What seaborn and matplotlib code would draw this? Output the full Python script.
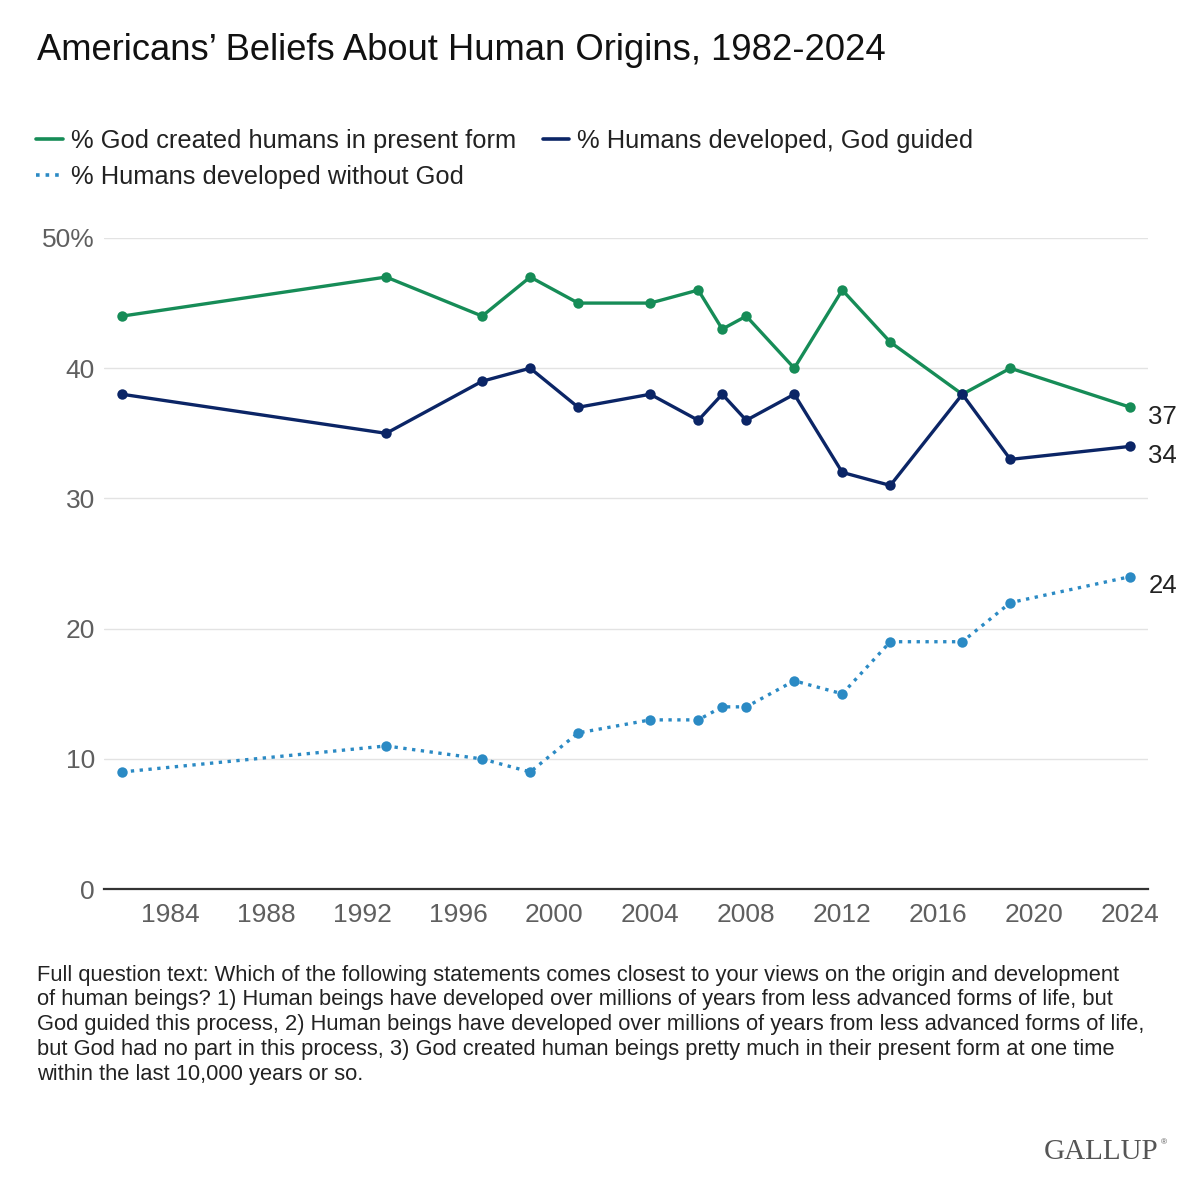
import numpy as np
import pandas as pd
import matplotlib
matplotlib.use("Agg")
import matplotlib.pyplot as plt
import seaborn as sns
from matplotlib.lines import Line2D

# --- data ---
years = [1982, 1993, 1997, 1999, 2001, 2004, 2006, 2007, 2008, 2010, 2012, 2014, 2017, 2019, 2024]
god_created = [44, 47, 44, 47, 45, 45, 46, 43, 44, 40, 46, 42, 38, 40, 37]
god_guided = [38, 35, 39, 40, 37, 38, 36, 38, 36, 38, 32, 31, 38, 33, 34]
without_god = [9, 11, 10, 9, 12, 13, 13, 14, 14, 16, 15, 19, 19, 22, 24]

series_names = ["% God created humans in present form",
                "% Humans developed, God guided",
                "% Humans developed without God"]
x_ticks = [1984, 1988, 1992, 1996, 2000, 2004, 2008, 2012, 2016, 2020, 2024]
y_ticks = [0, 10, 20, 30, 40, 50]
y_tick_labels = ["0", "10", "20", "30", "40", "50%"]

GREEN = "#168c57"
NAVY = "#0b2566"
LIGHT = "#2b8ac4"
GREY_TXT = "#5f5f5f"

sns.set_theme(style="white")
plt.rcParams['font.family'] = ['Liberation Sans', 'DejaVu Sans']

fig = plt.figure(figsize=(12, 12), dpi=100)
ax = fig.add_axes([0.0867, 0.259, 0.957 - 0.0867, 0.8017 - 0.259])

df = pd.DataFrame({"year": years, "created": god_created,
                   "guided": god_guided, "without": without_god})

styles = [("created", GREEN, "-"), ("guided", NAVY, "-"), ("without", LIGHT, ":")]
for col, colour, ls in styles:
    sns.lineplot(data=df, x="year", y=col, ax=ax, color=colour, linestyle=ls,
                 linewidth=2.4, marker="o", markersize=7.5, markeredgewidth=0,
                 clip_on=False, zorder=3)

# end labels
for col in ["created", "guided", "without"]:
    v = df[col].iloc[-1]
    ax.annotate(f"{v}", (df["year"].iloc[-1], v), xytext=(13, -7),
                textcoords="offset points", ha="left", va="center",
                fontsize=18.5, color="#222222", annotation_clip=False)

ax.set_xlim(1981.25, 2024.75)
ax.set_ylim(0, 50)
ax.set_xticks(x_ticks)
ax.set_yticks(y_ticks)
ax.set_yticklabels(y_tick_labels)
ax.tick_params(axis="both", length=0, labelsize=19, labelcolor=GREY_TXT)
ax.tick_params(axis="x", pad=10)
ax.tick_params(axis="y", pad=6.5)
ax.set_xlabel("")
ax.set_ylabel("")
for s in ["left", "right", "top"]:
    ax.spines[s].set_visible(False)
ax.spines["bottom"].set_color("#333333")
ax.spines["bottom"].set_linewidth(1.6)
ax.yaxis.grid(True, color="#e3e3e3", linewidth=1)
ax.xaxis.grid(False)
ax.set_axisbelow(True)

# legend
handles = [Line2D([0], [0], color=GREEN, lw=2.6),
           Line2D([0], [0], color=LIGHT, lw=2.6, linestyle=":"),
           Line2D([0], [0], color=NAVY, lw=2.6)]
labels = [series_names[0], series_names[2], series_names[1]]
fig.legend(handles, labels, loc="upper left", bbox_to_anchor=(0.011, 0.912),
           ncol=2, frameon=False, fontsize=18.4, handlelength=1.05,
           handletextpad=0.3, columnspacing=1.05, labelspacing=0.5,
           labelcolor="#222222")

fig.text(0.031, 0.958, "Americans\u2019 Beliefs About Human Origins, 1982-2024",
         fontsize=26.2, color="#111111", ha="left", va="center")

note = ("Full question text: Which of the following statements comes closest to your views on the origin and development\n"
        "of human beings? 1) Human beings have developed over millions of years from less advanced forms of life, but\n"
        "God guided this process, 2) Human beings have developed over millions of years from less advanced forms of life,\n"
        "but God had no part in this process, 3) God created human beings pretty much in their present form at one time\n"
        "within the last 10,000 years or so.")
fig.text(0.031, 0.196, note, fontsize=15.75, color="#222222", ha="left", va="top",
         linespacing=1.23)

fig.text(0.965, 0.04, "GALLUP", family=["Liberation Serif", "DejaVu Serif"],
         fontsize=21, color="#555555", ha="right", va="center")
fig.text(0.967, 0.048, "\u00ae", fontsize=6, color="#555555", ha="left", va="center")

fig.savefig("out.png", dpi=100, facecolor="white")
